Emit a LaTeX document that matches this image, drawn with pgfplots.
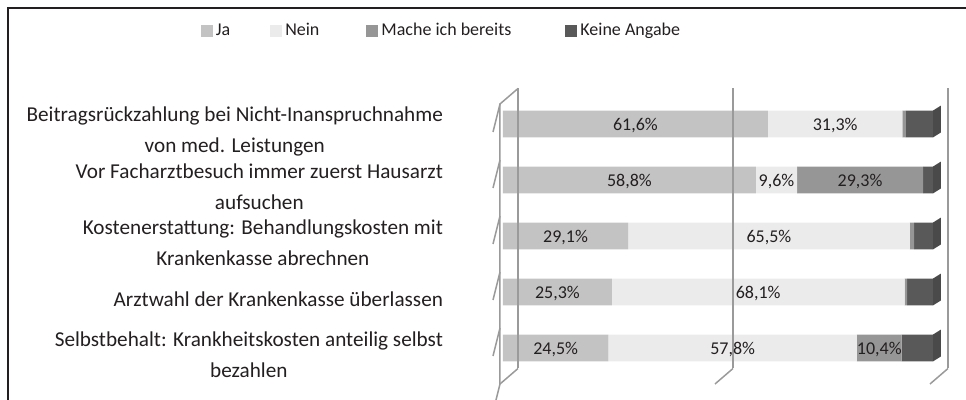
\documentclass[border=0pt]{standalone}
\usepackage{pgfplots}
\pgfplotsset{compat=1.18}
\usepackage{pgfplotstable}
\usepackage{fontspec}
\setmainfont{Carlito}
\definecolor{cJa}{HTML}{C3C3C3}
\definecolor{cNein}{HTML}{EBEBEB}
\definecolor{cMache}{HTML}{969696}
\definecolor{cKeine}{HTML}{595959}
\definecolor{cKeineSide}{HTML}{4A4A4A}
\definecolor{wall}{HTML}{9A9A9A}
\definecolor{txt}{HTML}{231F20}

\pgfplotstableread{
row ja nein mache keine
0 61.6 31.3 0.8 6.3
1 58.8 9.6 29.3 2.3
2 29.1 65.5 1.0 4.4
3 25.3 68.1 0.6 6.0
4 24.5 57.8 10.4 7.3
}\data

\newcommand{\catfont}{\fontsize{10.6}{15.5}\selectfont}
\newcommand{\lblfont}{\fontsize{9}{11}\selectfont}
\pgfplotsset{
  lbl/.style={
    nodes near coords={\ifdim\pgfplotspointmeta pt>5pt \pgfmathprintnumber[use comma,fixed,fixed zerofill,precision=1,assume math mode=true]{\pgfplotspointmeta}\%\fi},
  },
}
\tikzset{
  wl/.style={wall, line width=0.75pt},
  bk/.style={shift={(7.5pt,3.75pt)}},
  fr/.style={shift={(-1.5pt,-4pt)}},
  sd/.style={shift={(4pt,2.5pt)}},
}

\begin{document}
\begin{tikzpicture}
\useasboundingbox (0,0) rectangle (483pt,200pt);
\draw[txt, line width=1pt] (4pt,-5pt) -- (4pt,195.75pt) -- (490pt,195.75pt);
\begin{axis}[
  at={(251.5pt,12pt)}, anchor=south west,
  scale only axis, width=215pt, height=140pt,
  xmin=0, xmax=100, ymin=-0.5, ymax=4.5,
  y dir=reverse,
  xbar stacked, bar width=0.48,
  clip=false,
  axis line style={draw=none},
  major tick length=0pt,
  tick style={draw=none},
  xtick=\empty,
  ytick={0,1,2,3,4},
  yticklabels={{Beitragsrückzahlung bei Nicht-Inanspruchnahme\\von med. Leistungen},
               {Vor Facharztbesuch immer zuerst Hausarzt\\aufsuchen},
               {Kostenerstattung: Behandlungskosten mit\\Krankenkasse abrechnen},
               {Arztwahl der Krankenkasse überlassen},
               {Selbstbehalt: Krankheitskosten anteilig selbst\\bezahlen}},
  yticklabel style={align=center, font=\catfont, text=txt, xshift=-26.5pt, yshift=-3.5pt},
  point meta=explicit symbolic,
  every node near coord/.style={anchor=center, yshift=-0.6pt, font=\lblfont, text=txt, inner sep=0pt},
  legend columns=4,
  legend style={at={(-0.1419,1.232)}, anchor=center, draw=none, fill=none,
    font=\lblfont, text=txt,
    /tikz/column 2/.style={column sep=18.5pt},
    /tikz/column 4/.style={column sep=22pt},
    /tikz/column 6/.style={column sep=25.5pt},
    nodes={inner sep=1.5pt}},
  legend image code/.code={\path[#1, draw=none] (0pt,-3pt) rectangle (6pt,3pt);},
]
% walls
\draw[wl] ([bk]axis cs:0,-0.5) -- ([bk]axis cs:0,4.5);
\draw[wl] ([bk]axis cs:50,-0.5) -- ([bk]axis cs:50,4.5);
\draw[wl] ([bk]axis cs:100,-0.5) -- ([bk]axis cs:100,4.5);
\draw[wl] ([fr]axis cs:0,4.5) -- ([bk]axis cs:0,4.5);
\draw[wl] ([fr]axis cs:50,4.5) -- ([bk]axis cs:50,4.5);
\draw[wl] ([fr]axis cs:100,4.5) -- ([bk]axis cs:100,4.5);
\draw[wl] ([fr]axis cs:0,4.5) -- ([fr]axis cs:0,-0.5) -- ([bk]axis cs:0,-0.5);
\draw[wl] ([fr]axis cs:0,-0.5) -- ++(-3.5pt,0);
\draw[wl] ([fr]axis cs:0,0.5) -- ++(-3.5pt,0);
\draw[wl] ([fr]axis cs:0,1.5) -- ++(-3.5pt,0);
\draw[wl] ([fr]axis cs:0,2.5) -- ++(-3.5pt,0);
\draw[wl] ([fr]axis cs:0,3.5) -- ++(-3.5pt,0);
\draw[wl] ([fr]axis cs:0,4.5) -- ++(-3.5pt,0);
\addplot[fill=cJa, draw=none, lbl] table[x=ja, y=row, meta=ja]{\data};
\addplot[fill=cNein, draw=none, lbl] table[x=nein, y=row, meta=nein]{\data};
\addplot[fill=cMache, draw=none, lbl] table[x=mache, y=row, meta=mache]{\data};
\addplot[fill=cKeine, draw=none] table[x=keine, y=row, meta=keine]{\data};
\legend{Ja,Nein,Mache ich bereits,Keine Angabe}
% bar end faces
\fill[cKeineSide] (axis cs:100,0.24) -- (axis cs:100,-0.24) -- ([sd]axis cs:100,-0.24) -- ([sd]axis cs:100,0.24) -- cycle;
\fill[cKeineSide] (axis cs:100,1.24) -- (axis cs:100,0.76) -- ([sd]axis cs:100,0.76) -- ([sd]axis cs:100,1.24) -- cycle;
\fill[cKeineSide] (axis cs:100,2.24) -- (axis cs:100,1.76) -- ([sd]axis cs:100,1.76) -- ([sd]axis cs:100,2.24) -- cycle;
\fill[cKeineSide] (axis cs:100,3.24) -- (axis cs:100,2.76) -- ([sd]axis cs:100,2.76) -- ([sd]axis cs:100,3.24) -- cycle;
\fill[cKeineSide] (axis cs:100,4.24) -- (axis cs:100,3.76) -- ([sd]axis cs:100,3.76) -- ([sd]axis cs:100,4.24) -- cycle;
\end{axis}
\end{tikzpicture}
\end{document}
